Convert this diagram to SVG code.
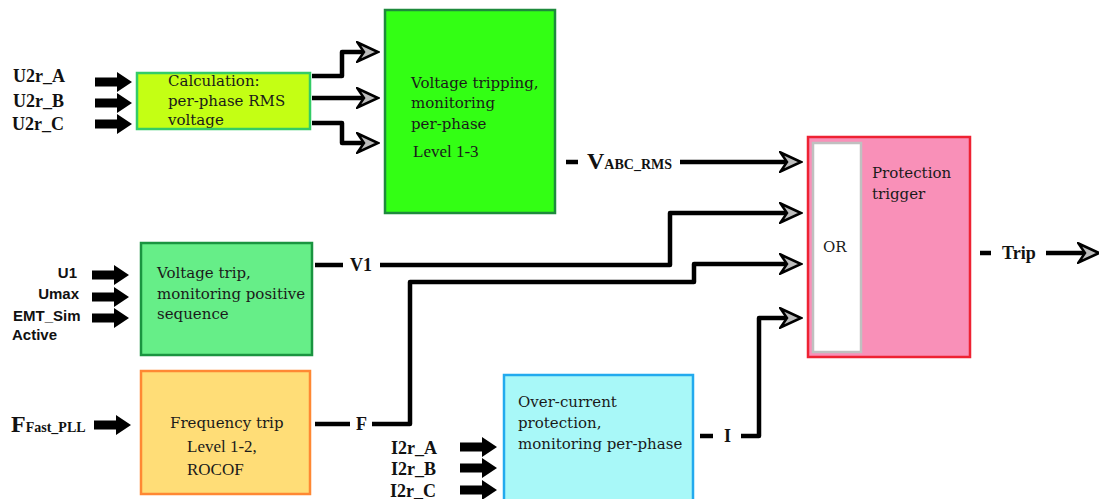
<svg xmlns="http://www.w3.org/2000/svg" xmlns:xlink="http://www.w3.org/1999/xlink" width="1099" height="499" viewBox="0 0 1099 499">
<style>
.box{stroke-width:2.5}
.bt{font-family:"DejaVu Serif",serif;font-size:15px;fill:#1a1a1a}
.bt2{font-family:"Liberation Serif",serif;font-size:17px;fill:#1a1a1a}
.lbl{font-family:"Liberation Serif",serif;font-weight:bold;font-size:18px;fill:#111}
.lbs{font-family:"Liberation Sans",sans-serif;font-weight:bold;font-size:15px;fill:#111}
.wire{fill:none;stroke:#000;stroke-width:4.5;stroke-linejoin:round;stroke-linecap:butt}
.arr{marker-end:url(#chev)}
</style>
<defs>
<marker id="chev" markerUnits="userSpaceOnUse" viewBox="0 0 24 22" refX="8" refY="11" markerWidth="24" markerHeight="22" orient="auto">
<path d="M1.5,1.5 L22,11 L1.5,20.5 L8,11 Z" fill="#bdbdbd" stroke="#000" stroke-width="2.5" stroke-linejoin="miter"/>
</marker>
<path id="blk" d="M0,-4.5 H22 V-10 L37,0 L22,10 V4.5 H0 Z" fill="#000"/>
</defs>

<g id="connectors">
<path class="wire arr" d="M312,76 H342 V52 H364"/>
<path class="wire arr" d="M312,98 H364"/>
<path class="wire arr" d="M312,123 H342 V143 H364"/>
<path class="wire" d="M566,162 H578"/>
<path class="wire arr" d="M680,162 H787"/>
<path class="wire" d="M315,265 H343"/>
<path class="wire arr" d="M380,265 H670 V213 H787"/>
<path class="wire" d="M315,424 H350"/>
<path class="wire arr" d="M372,424 H410 V282 H694 V264 H787"/>
<path class="wire" d="M700,436 H713"/>
<path class="wire arr" d="M741,436 H759 V318 H787"/>
<path class="wire" d="M980,253 H991"/>
<path class="wire arr" d="M1046,253 H1085"/>
<use xlink:href="#blk" x="95" y="82"/>
<use xlink:href="#blk" x="95" y="103"/>
<use xlink:href="#blk" x="95" y="124"/>
<use xlink:href="#blk" x="92" y="275"/>
<use xlink:href="#blk" x="92" y="297"/>
<use xlink:href="#blk" x="92" y="318"/>
<use xlink:href="#blk" x="94" y="425"/>
<use xlink:href="#blk" x="460" y="447"/>
<use xlink:href="#blk" x="460" y="468"/>
<use xlink:href="#blk" x="460" y="490"/>
</g>

<g id="labels">
<text class="lbl" x="13" y="82">U2r_A</text>
<text class="lbl" x="13" y="107">U2r_B</text>
<text class="lbl" x="12" y="130">U2r_C</text>
<text class="lbs" x="77" y="278" text-anchor="end">U1</text>
<text class="lbs" x="79" y="299" text-anchor="end">Umax</text>
<text class="lbs" x="13" y="321">EMT_Sim</text>
<text class="lbs" x="12" y="340">Active</text>
<text class="lbl" x="11" y="432"><tspan font-size="24">F</tspan><tspan font-size="14">Fast_PLL</tspan></text>
<text class="lbl" x="391" y="454">I2r_A</text>
<text class="lbl" x="391" y="475">I2r_B</text>
<text class="lbl" x="390" y="497">I2r_C</text>
<text class="lbl" x="587" y="169"><tspan font-size="24">V</tspan><tspan font-size="14">ABC_RMS</tspan></text>
<text class="lbl" x="350" y="271">V1</text>
<text class="lbl" x="356" y="430">F</text>
<text class="lbl" x="724" y="442">I</text>
<text class="lbl" x="1002" y="259" font-size="20">Trip</text>
</g>

<g id="calc">
<rect class="box" x="137" y="73" width="173" height="56" fill="#c4ff14" stroke="#33cc66"/>
<text class="bt" x="168" y="86">Calculation:</text>
<text class="bt" x="168" y="106">per-phase RMS</text>
<text class="bt" x="168" y="125">voltage</text>
</g>

<g id="vtrip-phase">
<rect class="box" x="385" y="10" width="170" height="203" fill="#33ff14" stroke="#1e8a3c"/>
<text class="bt" x="411" y="88">Voltage tripping,</text>
<text class="bt" x="411" y="108">monitoring</text>
<text class="bt" x="411" y="129">per-phase</text>
<text class="bt2" x="413" y="157" font-size="16">Level 1-3</text>
</g>

<g id="vtrip-pos">
<rect class="box" x="141" y="243" width="171" height="112" fill="#66ee88" stroke="#1a9440"/>
<text class="bt" x="157" y="278">Voltage trip,</text>
<text class="bt" x="157" y="299">monitoring positive</text>
<text class="bt" x="157" y="319">sequence</text>
</g>

<g id="freq">
<rect class="box" x="141" y="371" width="169" height="123" fill="#ffdd77" stroke="#ff8833"/>
<text class="bt" x="170" y="428">Frequency trip</text>
<text class="bt2" x="187" y="452" font-size="18">Level 1-2,</text>
<text class="bt2" x="187" y="475" font-size="17">ROCOF</text>
</g>

<g id="overcurrent">
<rect class="box" x="504" y="375" width="189" height="130" fill="#a8f8f8" stroke="#22aaee"/>
<text class="bt" x="518" y="407">Over-current</text>
<text class="bt" x="518" y="428">protection,</text>
<text class="bt" x="518" y="449">monitoring per-phase</text>
</g>

<g id="protection">
<rect class="box" x="808" y="137" width="162" height="220" fill="#f990b8" stroke="#ee2233"/>
<rect x="813" y="143" width="48" height="209" fill="#ffffff" stroke="#c0c0c0" stroke-width="2.5"/>
<text class="bt" x="872" y="178">Protection</text>
<text class="bt" x="872" y="199">trigger</text>
<text class="bt" x="823" y="252">OR</text>
</g>
</svg>
